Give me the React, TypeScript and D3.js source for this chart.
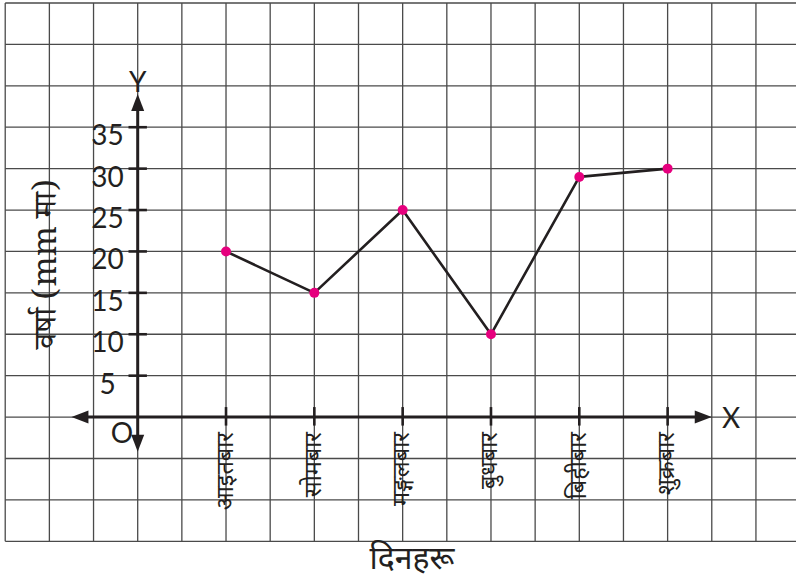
import React from "react";
import * as d3 from "d3";

const days = ["आइतबार", "सोमबार", "मङ्गलबार", "बुधबार", "बिहीबार", "शुक्रबार"];
const rainfall = [20, 15, 25, 10, 29, 30];
const dayColumns = [2, 4, 6, 8, 10, 12];
const yTicks = [5, 10, 15, 20, 25, 30, 35];
const yTitle = "वर्षा (mm मा)";
const xTitle = "दिनहरू";

const W = 796;
const H = 581;

export default function App() {
  const x = d3.scaleLinear().domain([0, 1]).range([137.7, 137.7 + 44.16]);
  const y = d3.scaleLinear().domain([-15, 50]).range([541.3, 3]);

  const gridCols = d3.range(-3, 16);
  const gridRows = d3.range(-15, 51, 5);

  const pts = rainfall.map((v, i) => [x(dayColumns[i]), y(v)] as [number, number]);
  const line = d3.line()(pts) || "";

  const axisColor = "#231f20";
  const xl = x(-1.5), xr = x(13), x0 = x(0);
  const yt = y(39), yb = y(-4.2), y0 = y(0);
  const aL = 17, aW = 6.5;
  const tickFont = "Lato, 'Open Sans', sans-serif";
  const devFont = "'Noto Sans Devanagari', 'Noto Sans', 'Lohit Devanagari', sans-serif";

  return (
    <svg width={W} height={H} style={{ position: "absolute", left: 0, top: 0, background: "#fff" }}>
      <rect x={0} y={0} width={W} height={H} fill="#fff" />
      <g stroke="#4a4a4a" strokeWidth={1.3}>
        {gridCols.map((c) => (
          <line key={"c" + c} x1={x(c)} x2={x(c)} y1={y(50)} y2={y(-15)} />
        ))}
        {gridRows.map((r) => (
          <line key={"r" + r} x1={x(-3)} x2={W + 10} y1={y(r)} y2={y(r)} />
        ))}
      </g>

      {/* axes */}
      <g stroke={axisColor} strokeWidth={3}>
        <line x1={xl + aL - 2} x2={xr - aL + 2} y1={y0} y2={y0} />
        <line x1={x0} x2={x0} y1={yt + aL - 2} y2={yb - aL + 2} />
        {yTicks.map((v) => (
          <line key={"yt" + v} x1={x0 - 9.2} x2={x0 + 9.2} y1={y(v)} y2={y(v)} strokeWidth={2.6} />
        ))}
        {dayColumns.map((c) => (
          <line key={"xt" + c} x1={x(c)} x2={x(c)} y1={y0 - 10} y2={y0 + 8.5} strokeWidth={2.6} />
        ))}
      </g>
      <g fill={axisColor}>
        <path d={`M${xl},${y0} L${xl + aL},${y0 - aW} L${xl + aL},${y0 + aW} Z`} />
        <path d={`M${xr},${y0} L${xr - aL},${y0 - aW} L${xr - aL},${y0 + aW} Z`} />
        <path d={`M${x0},${yt} L${x0 - aW},${yt + aL} L${x0 + aW},${yt + aL} Z`} />
        <path d={`M${x0},${yb} L${x0 - aW},${yb - aL} L${x0 + aW},${yb - aL} Z`} />
      </g>

      {/* tick labels */}
      <g fill={axisColor} fontFamily={tickFont} fontSize={28} textAnchor="middle">
        {yTicks.map((v) => (
          <text key={"yl" + v} x={107.5} y={y(v) + 18}>{v}</text>
        ))}
        <text x={122} y={y0 + 26}>O</text>
        <text x={x0} y={yt - 2}>Y</text>
        <text x={731} y={y0 + 11}>X</text>
      </g>

      {/* day labels */}
      <g fill={axisColor} fontFamily={devFont} fontSize={23.5}>
        {days.map((d, i) => {
          const cx = x(dayColumns[i]) + 1;
          const cy = y0 + 15;
          return (
            <text key={d} x={cx} y={cy} transform={`rotate(-90 ${cx} ${cy})`} textAnchor="end" dominantBaseline="central">
              {d}
            </text>
          );
        })}
      </g>

      {/* data line */}
      <path d={line} fill="none" stroke={axisColor} strokeWidth={2.6} strokeLinejoin="round" />
      <g fill="#e6007e">
        {pts.map((p, i) => (
          <circle key={i} cx={p[0]} cy={p[1]} r={5} />
        ))}
      </g>

      {/* titles */}
      <text
        x={51}
        y={264}
        transform="rotate(-90 51 264)"
        textAnchor="middle"
        dominantBaseline="central"
        fontFamily="'Noto Serif Devanagari', 'DejaVu Serif', serif"
        fontSize={32}
        fill={axisColor}
      >
        {yTitle}
      </text>
      <text x={412} y={569} textAnchor="middle" fontFamily={devFont} fontSize={32} fill={axisColor}>
        {xTitle}
      </text>
    </svg>
  );
}
